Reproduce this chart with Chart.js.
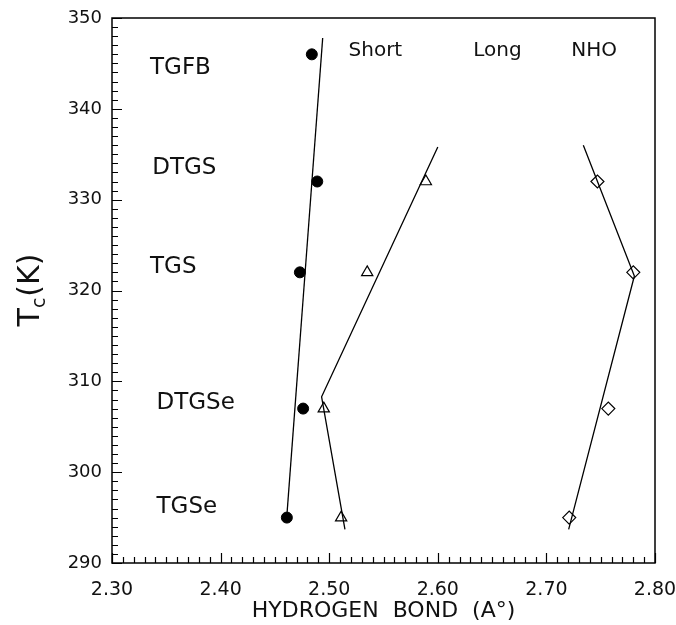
<!DOCTYPE html>
<html>
<head>
<meta charset="utf-8">
<script src="https://cdn.jsdelivr.net/npm/chart.js@4"></script>
<style>
  html, body { margin: 0; padding: 0; background: #fff; }
  canvas { display: block; }
</style>
</head>
<body>
<canvas id="chart" width="676" height="625"></canvas>
<script>
// --- values ---
const compounds = ['TGFB', 'DTGS', 'TGS', 'DTGSe', 'TGSe'];
const tc = [346, 332, 322, 307, 295];
const shortBond = [2.484, 2.489, 2.473, 2.476, 2.461];
const longBond = [null, 2.589, 2.535, 2.495, 2.511];
const nhoBond = [null, 2.747, 2.780, 2.757, 2.721];

// drawn guide lines (ends and kinks)
const shortFitX = [2.461, 2.494];
const shortFitY = [295.2, 347.8];
const longFitX = [2.600, 2.493, 2.5145];
const longFitY = [335.8, 308.3, 293.7];
const nhoFitX = [2.734, 2.781, 2.7205];
const nhoFitY = [336.0, 321.6, 293.7];

const xTicks = [2.30, 2.40, 2.50, 2.60, 2.70, 2.80];
const yTicks = [290, 300, 310, 320, 330, 340, 350];

const seriesNames = ['Short', 'Long', 'NHO'];

// where the text labels sit (data units)
const seriesNameX = [2.5425, 2.655, 2.744];
const seriesNameY = 346.6;
const compoundLabelX = [2.335, 2.337, 2.335, 2.341, 2.341];
const compoundLabelY = [344.8, 333.7, 322.8, 307.9, 296.4];

const FONT = "'DejaVu Sans', sans-serif";

const pts = (xs, ys) => xs.map((x, i) => x == null ? null : { x: x, y: ys[i] }).filter(Boolean);

// frame, inward ticks and all free text
const decor = {
  id: 'decor',
  afterDatasetsDraw(chart) {
    const { ctx, chartArea: a, scales } = chart;
    const sx = scales.x, sy = scales.y;
    ctx.save();
    ctx.strokeStyle = '#000';
    ctx.lineWidth = 1.5;
    ctx.strokeRect(a.left, a.top, a.right - a.left, a.bottom - a.top);

    ctx.lineWidth = 1.2;
    ctx.beginPath();
    for (let i = 0; i <= 50; i++) {
      const px = Math.round(sx.getPixelForValue(2.30 + i * 0.01)) + 0.5;
      const len = i % 10 === 0 ? 10 : 6;
      ctx.moveTo(px, a.bottom);
      ctx.lineTo(px, a.bottom - len);
    }
    for (let v = 290; v <= 350; v++) {
      const py = Math.round(sy.getPixelForValue(v)) + 0.5;
      const len = v % 10 === 0 ? 10 : 6;
      ctx.moveTo(a.left, py);
      ctx.lineTo(a.left + len, py);
    }
    ctx.stroke();

    ctx.fillStyle = '#111';
    ctx.textBaseline = 'alphabetic';

    // compound names
    ctx.font = '23px ' + FONT;
    ctx.textAlign = 'left';
    compounds.forEach((c, i) => {
      ctx.fillText(c, sx.getPixelForValue(compoundLabelX[i]), sy.getPixelForValue(compoundLabelY[i]) + 23 * 0.365);
    });

    // series headers
    ctx.font = '20px ' + FONT;
    ctx.textAlign = 'center';
    seriesNames.forEach((s, i) => {
      ctx.fillText(s, sx.getPixelForValue(seriesNameX[i]), sy.getPixelForValue(seriesNameY) + 20 * 0.365);
    });

    // x title
    ctx.font = '22px ' + FONT;
    ctx.fillText('HYDROGEN  BOND  (A\u00B0)', (a.left + a.right) / 2, 617);

    // y title T_c(K)
    ctx.translate(39, (a.top + a.bottom) / 2);
    ctx.rotate(-Math.PI / 2);
    ctx.textAlign = 'left';
    const big = '30px ' + FONT, small = '19px ' + FONT;
    ctx.font = big;
    const wT = ctx.measureText('T').width;
    const wK = ctx.measureText('(K)').width;
    ctx.font = small;
    const wc = ctx.measureText('c').width;
    let x0 = -(wT + wc + wK) / 2;
    ctx.font = big;
    ctx.fillText('T', x0, 0);
    ctx.font = small;
    ctx.fillText('c', x0 + wT, 6);
    ctx.font = big;
    ctx.fillText('(K)', x0 + wT + wc + 1, 0);
    ctx.restore();
  }
};

const lineDs = (data) => ({
  data: data, showLine: true, pointRadius: 0, borderColor: '#000',
  borderWidth: 1.3, fill: false, tension: 0
});

new Chart(document.getElementById('chart'), {
  type: 'scatter',
  data: {
    datasets: [
      lineDs(pts(shortFitX, shortFitY)),
      lineDs(pts(longFitX, longFitY)),
      lineDs(pts(nhoFitX, nhoFitY)),
      {
        label: seriesNames[0], data: pts(shortBond, tc), pointStyle: 'circle',
        pointRadius: 5.5, backgroundColor: '#000', borderColor: '#000', borderWidth: 1
      },
      {
        label: seriesNames[1], data: pts(longBond, tc), pointStyle: 'triangle',
        pointRadius: 6.5, backgroundColor: 'rgba(0,0,0,0)', borderColor: '#000', borderWidth: 1.2
      },
      {
        label: seriesNames[2], data: pts(nhoBond, tc), pointStyle: 'rectRot',
        pointRadius: 6.5, backgroundColor: 'rgba(0,0,0,0)', borderColor: '#000', borderWidth: 1.2
      }
    ]
  },
  options: {
    responsive: false,
    animation: false,
    devicePixelRatio: 1,
    layout: { padding: { left: 0, top: 18, right: 21, bottom: 0 } },
    plugins: { legend: { display: false }, tooltip: { enabled: false } },
    scales: {
      x: {
        type: 'linear', min: 2.30, max: 2.80,
        afterBuildTicks: s => { s.ticks = xTicks.map(v => ({ value: v })); },
        afterFit: s => { s.height = 62; s.paddingLeft = 0; s.paddingRight = 0; },
        grid: { display: false, drawTicks: false },
        border: { display: false },
        ticks: {
          padding: 16, maxRotation: 0, color: '#111',
          font: { family: FONT, size: 19 },
          callback: v => Number(v).toFixed(2)
        }
      },
      y: {
        type: 'linear', min: 290, max: 350,
        afterBuildTicks: s => { s.ticks = yTicks.map(v => ({ value: v })); },
        afterFit: s => { s.width = 112; s.paddingTop = 0; s.paddingBottom = 0; },
        grid: { display: false, drawTicks: false },
        border: { display: false },
        ticks: {
          padding: 10, color: '#111',
          font: { family: FONT, size: 18 },
          callback: v => String(v)
        }
      }
    }
  },
  plugins: [decor]
});
</script>
</body>
</html>
